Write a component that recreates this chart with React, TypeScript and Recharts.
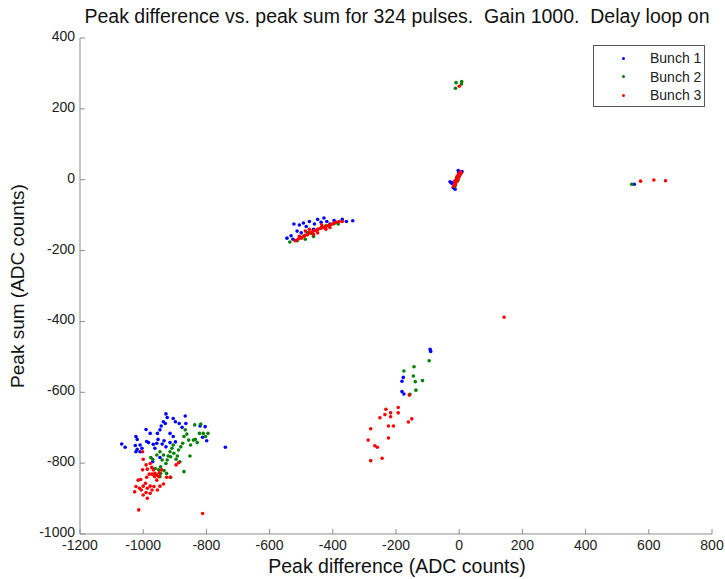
import React from "react";
import { ScatterChart, Scatter, XAxis, YAxis } from "recharts";

// [peak difference, peak sum] pairs
const bunch1: [number, number][] = [
  [-1068, -746], [-1057, -755], [-1023, -725], [-1019, -733], [-1025, -750],
  [-1019, -761], [-1010, -768], [-1023, -768], [-1004, -758], [-991, -705],
  [-978, -716], [-983, -742], [-968, -747], [-955, -716], [-947, -706],
  [-943, -695], [-936, -683], [-928, -661], [-930, -688], [-924, -671],
  [-905, -674], [-898, -683], [-886, -688], [-867, -667], [-953, -733],
  [-940, -746], [-934, -737], [-928, -754], [-915, -742], [-905, -725],
  [-898, -740], [-877, -699], [-865, -688], [-820, -695], [-804, -697],
  [-812, -727], [-799, -737], [-740, -755], [-970, -796], [-947, -784],
  [-915, -716], [-957, -744], [-989, -739], [-1010, -749], [-963, -758],
  [-545, -165], [-532, -158], [-523, -125], [-506, -128], [-493, -122],
  [-484, -132], [-474, -118], [-458, -125], [-448, -112], [-437, -120],
  [-428, -108], [-419, -118], [-409, -125], [-396, -115], [-383, -120],
  [-370, -112], [-357, -118], [-337, -116], [-513, -145], [-500, -150],
  [-461, -140], [-526, -168],
  [-29, -6], [-24, -10], [-3, 26], [9, 23], [-13, -27], [-19, -22],
  [-20, -8], [-2, 20],
  [-92, -479], [-90, -485], [-181, -569], [-177, -558], [-181, -598], [-175, -605],
  [554, -13],
];

const bunch2: [number, number][] = [
  [-976, -784], [-970, -789], [-957, -777], [-947, -768], [-940, -791],
  [-951, -819], [-945, -829], [-934, -821], [-928, -801], [-921, -780],
  [-915, -768], [-909, -758], [-903, -772], [-896, -789], [-892, -780],
  [-888, -763], [-881, -754], [-875, -744], [-871, -725], [-867, -706],
  [-862, -718], [-856, -735], [-850, -749], [-841, -735], [-835, -733],
  [-829, -742], [-822, -716], [-837, -692], [-818, -690], [-810, -716],
  [-803, -725], [-795, -716], [-852, -780], [-871, -824], [-913, -840],
  [-926, -829], [-945, -810], [-905, -749], [-936, -777], [-924, -791],
  [-884, -796], [-913, -782], [-947, -838], [-962, -815],
  [-536, -176], [-513, -172], [-493, -160], [-480, -150], [-467, -152],
  [-448, -140], [-435, -135], [-422, -130], [-409, -128], [-396, -124],
  [-383, -125], [-461, -160], [-487, -168],
  [-12, -15], [-8, 7], [-14, -20], [-4, -2],
  [-10, 274], [8, 277], [7, 270], [-12, 258],
  [-95, -511], [-143, -528], [-175, -540], [-145, -554], [-139, -570],
  [-116, -567], [-137, -594], [-156, -606],
  [546, -13],
];

const bunch3: [number, number][] = [
  [-1002, -768], [-1000, -789], [-991, -805], [-987, -817], [-978, -801],
  [-973, -812], [-968, -819], [-963, -829], [-957, -833], [-951, -838],
  [-949, -827], [-957, -848], [-964, -838], [-972, -831], [-981, -831],
  [-989, -840], [-1002, -819], [-1008, -846], [-1016, -848], [-1023, -866],
  [-1027, -881], [-1012, -871], [-1000, -865], [-993, -857], [-987, -871],
  [-978, -865], [-966, -866], [-955, -876], [-947, -865], [-936, -859],
  [-1000, -890], [-987, -899], [-978, -885], [-972, -876], [-1006, -876],
  [-991, -883], [-1014, -932], [-812, -942], [-926, -840], [-915, -840],
  [-896, -805], [-888, -799], [-942, -819],
  [-519, -172], [-510, -168], [-500, -165], [-493, -160], [-487, -157],
  [-480, -155], [-474, -150], [-467, -148], [-461, -145], [-454, -143],
  [-448, -140], [-441, -138], [-435, -136], [-428, -134], [-422, -132],
  [-415, -130], [-409, -127], [-402, -125], [-396, -122], [-389, -120],
  [-380, -118], [-370, -118], [-474, -140], [-448, -150], [-435, -128],
  [-461, -155], [-422, -140], [-487, -145], [-506, -160], [-409, -135],
  [-18, -18], [-15, -12], [-13, -8], [-11, -4], [-9, 0], [-7, 4], [-5, 8],
  [-3, 12], [-1, 16], [2, 19], [5, 22], [-12, -14], [-8, -6], [-4, 2],
  [0, 8], [3, 14], [-14, -4], [-6, 10], [-16, -16], [6, 18],
  [0, 264],
  [142, -388],
  [-158, -608], [-232, -648], [-193, -643], [-235, -663], [-251, -672],
  [-217, -658], [-217, -669], [-193, -658], [-150, -675], [-161, -684],
  [-224, -695], [-208, -695], [-280, -703], [-288, -735], [-224, -729],
  [-267, -751], [-259, -755], [-244, -786], [-280, -793],
  [574, -4], [616, -1], [653, -3],
];

const xTicks = [-1200, -1000, -800, -600, -400, -200, 0, 200, 400, 600, 800];
const yTicks = [-1000, -800, -600, -400, -200, 0, 200, 400];

const series = [
  { name: "Bunch 1", color: "#0000ff", points: bunch1 },
  { name: "Bunch 2", color: "#008000", points: bunch2 },
  { name: "Bunch 3", color: "#ff0000", points: bunch3 },
];

const AXIS = "#8c8c8c";
const FONT = "'Liberation Sans', Arial, sans-serif";

const Dot = (props: any) => (
  <circle cx={props.cx} cy={props.cy} r={1.8} fill={props.fill} />
);

const BottomTick = ({ x, y, payload }: any) => (
  <g>
    <line x1={x} x2={x} y1={y} y2={y - 5} stroke={AXIS} />
    <text x={x} y={y + 16} textAnchor="middle" fontSize={14} fill="#222" fontFamily={FONT}>
      {payload.value}
    </text>
  </g>
);

const LeftTick = ({ x, y, payload }: any) => (
  <g>
    <line x1={x} x2={x + 5} y1={y} y2={y} stroke={AXIS} />
    <text x={x - 5} y={y + 3} textAnchor="end" fontSize={14} fill="#222" fontFamily={FONT}>
      {payload.value}
    </text>
  </g>
);

const TopTick = ({ x, y }: any) => (
  <line x1={x} x2={x} y1={y} y2={y + 5} stroke={AXIS} />
);

const RightTick = ({ x, y }: any) => (
  <line x1={x} x2={x - 5} y1={y} y2={y} stroke={AXIS} />
);

const LegendBox = () => (
  <div
    style={{
      position: "absolute",
      left: 593,
      top: 45,
      width: 112,
      height: 62,
      border: "1px solid #555",
      background: "#fff",
      fontSize: 14,
      color: "#222",
      paddingTop: 3,
      boxSizing: "border-box",
    }}
  >
    {series.map((s) => (
      <div key={s.name} style={{ display: "flex", alignItems: "center", height: 18.5 }}>
        <span
          style={{
            display: "inline-block",
            width: 3,
            height: 3,
            borderRadius: 2,
            background: s.color,
            marginLeft: 28,
            marginRight: 25,
          }}
        />
        <span>{s.name}</span>
      </div>
    ))}
  </div>
);

export default function App() {
  return (
    <div style={{ position: "relative", width: 725, height: 579, fontFamily: FONT }}>
      <style>{"body{margin:0;overflow:hidden}"}</style>
      <div
        style={{
          position: "absolute",
          left: 8,
          width: 778,
          top: 5,
          textAlign: "center",
          fontSize: 19.5,
          color: "#111",
          whiteSpace: "pre",
        }}
      >
        {"Peak difference vs. peak sum for 324 pulses.  Gain 1000.  Delay loop on"}
      </div>
      <div
        style={{
          position: "absolute",
          left: 8,
          width: 778,
          top: 555,
          textAlign: "center",
          fontSize: 19.5,
          color: "#111",
        }}
      >
        Peak difference (ADC counts)
      </div>
      <div
        style={{
          position: "absolute",
          left: 18,
          top: 286,
          transform: "translate(-50%, -50%) rotate(-90deg)",
          fontSize: 19,
          color: "#111",
          whiteSpace: "nowrap",
        }}
      >
        Peak sum (ADC counts)
      </div>
      <ScatterChart
        width={725}
        height={579}
        margin={{ top: 38, right: 13, bottom: 0, left: 8 }}
        style={{ position: "absolute", left: 0, top: 0 }}
      >
        <XAxis
          xAxisId="b"
          type="number"
          dataKey="x"
          domain={[-1200, 800]}
          ticks={xTicks}
          allowDataOverflow
          height={45}
          tickSize={0}
          tickMargin={0}
          tickLine={false}
          axisLine={{ stroke: AXIS }}
          tick={<BottomTick />}
          interval={0}
        />
        <XAxis
          xAxisId="t"
          orientation="top"
          type="number"
          domain={[-1200, 800]}
          ticks={xTicks}
          allowDataOverflow
          height={0}
          tickSize={0}
          tickMargin={0}
          tickLine={false}
          axisLine={{ stroke: AXIS }}
          tick={<TopTick />}
          interval={0}
        />
        <YAxis
          yAxisId="l"
          type="number"
          dataKey="y"
          domain={[-1000, 400]}
          ticks={yTicks}
          allowDataOverflow
          width={72}
          tickSize={0}
          tickMargin={0}
          tickLine={false}
          axisLine={{ stroke: AXIS }}
          tick={<LeftTick />}
          interval={0}
        />
        <YAxis
          yAxisId="r"
          orientation="right"
          type="number"
          domain={[-1000, 400]}
          ticks={yTicks}
          allowDataOverflow
          width={0}
          tickSize={0}
          tickMargin={0}
          tickLine={false}
          axisLine={{ stroke: AXIS }}
          tick={<RightTick />}
          interval={0}
        />
        {series.map((s) => (
          <Scatter
            key={s.name}
            name={s.name}
            xAxisId="b"
            yAxisId="l"
            data={s.points.map(([x, y]) => ({ x, y }))}
            fill={s.color}
            shape={<Dot />}
            isAnimationActive={false}
          />
        ))}
      </ScatterChart>
      <LegendBox />
    </div>
  );
}
